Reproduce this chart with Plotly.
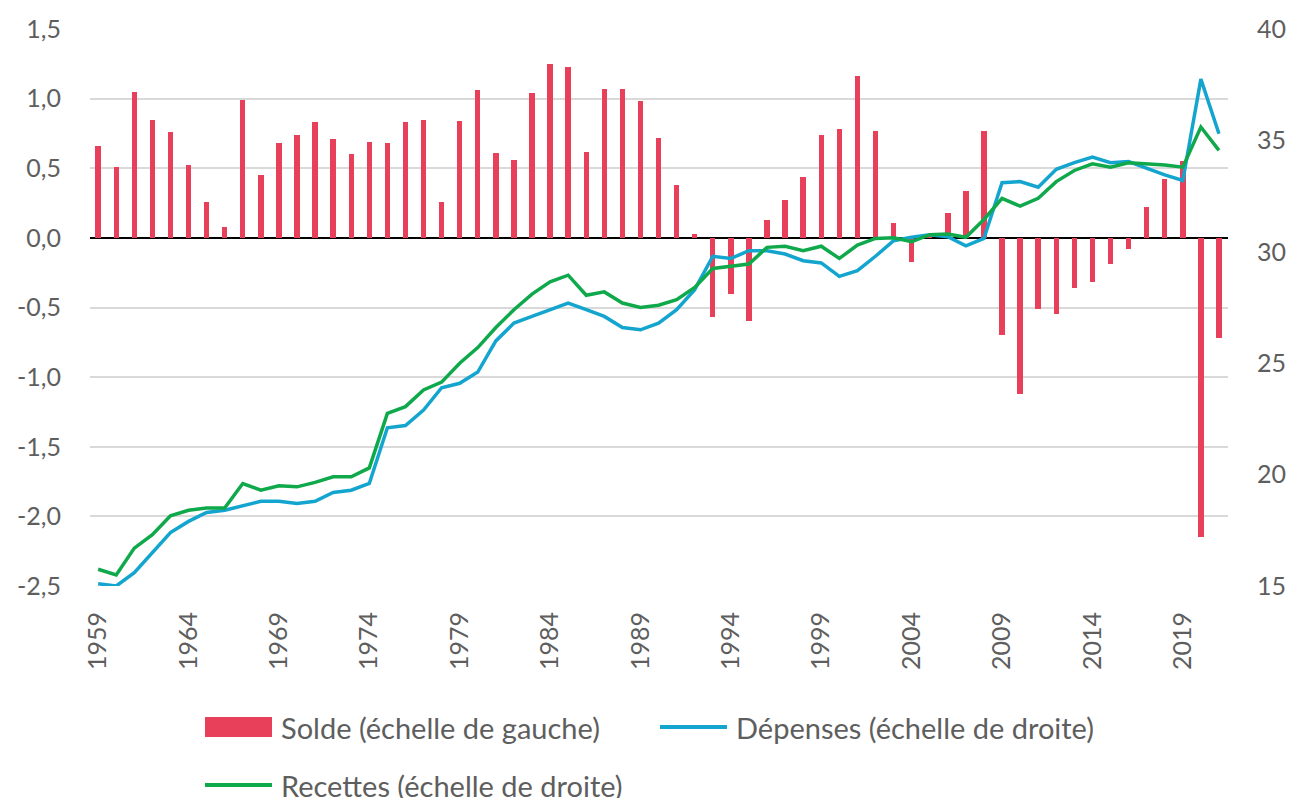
import plotly.graph_objects as go

years = list(range(1959, 2022))

solde = [0.66, 0.51, 1.05, 0.85, 0.76, 0.52, 0.26, 0.08, 0.99, 0.45,
         0.68, 0.74, 0.83, 0.71, 0.60, 0.69, 0.68, 0.83, 0.85, 0.26,
         0.84, 1.06, 0.61, 0.56, 1.04, 1.25, 1.23, 0.62, 1.07, 1.07,
         0.98, 0.72, 0.38, 0.03, -0.57, -0.40, -0.60, 0.13, 0.27, 0.44,
         0.74, 0.78, 1.16, 0.77, 0.11, -0.17, 0.02, 0.18, 0.34, 0.77,
         -0.70, -1.12, -0.51, -0.55, -0.36, -0.32, -0.19, -0.08, 0.22, 0.42,
         0.55, -2.15, -0.72]

depenses = [15.1, 15.0, 15.6, 16.5, 17.4, 17.9, 18.3, 18.4, 18.6, 18.8,
            18.8, 18.7, 18.8, 19.2, 19.3, 19.6, 22.1, 22.2, 22.9, 23.9,
            24.1, 24.6, 26.0, 26.8, 27.1, 27.4, 27.7, 27.4, 27.1, 26.6,
            26.5, 26.8, 27.4, 28.3, 29.8, 29.7, 30.05, 30.05, 29.9, 29.6,
            29.5, 28.9, 29.15, 29.8, 30.5, 30.65, 30.77, 30.68, 30.27, 30.6,
            33.1, 33.15, 32.9, 33.7, 34.0, 34.25, 34.0, 34.05, 33.75, 33.45,
            33.2, 37.75, 35.3]

recettes = [15.75, 15.5, 16.7, 17.3, 18.15, 18.4, 18.5, 18.5, 19.6, 19.3,
            19.5, 19.45, 19.65, 19.9, 19.9, 20.3, 22.75, 23.05, 23.8, 24.15,
            25.0, 25.7, 26.6, 27.4, 28.1, 28.65, 28.95, 28.05, 28.2, 27.7,
            27.5, 27.6, 27.85, 28.4, 29.25, 29.35, 29.45, 30.2, 30.25, 30.05,
            30.25, 29.7, 30.3, 30.6, 30.63, 30.45, 30.77, 30.8, 30.65, 31.45,
            32.4, 32.05, 32.4, 33.15, 33.65, 33.95, 33.8, 34.0, 33.95, 33.9,
            33.8, 35.6, 34.55]

year_ticks = list(range(1959, 2022, 5))
year_labels = [str(y) for y in year_ticks]
left_ticks = [-2.5, -2.0, -1.5, -1.0, -0.5, 0.0, 0.5, 1.0, 1.5]
left_labels = ['-2,5', '-2,0', '-1,5', '-1,0', '-0,5', '0,0', '0,5', '1,0', '1,5']
right_ticks = [15, 20, 25, 30, 35, 40]
right_labels = ['15', '20', '25', '30', '35', '40']

red = '#E8405A'
blue = '#14A5CF'
green = '#0FA94C'
grey = '#5E5E5E'
font = 'Lato'

fig = go.Figure()
fig.add_trace(go.Bar(x=years, y=solde, name='Solde (échelle de gauche)',
                     marker=dict(color=red, line=dict(width=0)), width=0.3,
                     showlegend=False))
fig.add_trace(go.Scatter(x=years, y=depenses, name='Dépenses (échelle de droite)',
                         mode='lines', line=dict(color=blue, width=3.5),
                         yaxis='y2', showlegend=False))
fig.add_trace(go.Scatter(x=years, y=recettes, name='Recettes (échelle de droite)',
                         mode='lines', line=dict(color=green, width=3.5),
                         yaxis='y2', showlegend=False))

# the page body adds 8px around the figure, so the figure is 8px smaller
fig.update_layout(
    width=1287, height=790,
    margin=dict(l=82, r=67, t=21, b=212),
    paper_bgcolor='white', plot_bgcolor='white',
    font=dict(family=font, size=25, color=grey),
    xaxis=dict(range=[1958.55, 2021.5], tickmode='array', tickvals=year_ticks,
               ticktext=year_labels, tickangle=-90, showgrid=False, ticks='',
               showline=False, zeroline=False, ticklabelstandoff=20,
               automargin=False, tickfont=dict(size=25, color=grey)),
    yaxis=dict(range=[-2.5, 1.5], tickmode='array', tickvals=left_ticks,
               ticktext=left_labels, showgrid=True, gridcolor='#D9D9D9', gridwidth=2,
               zeroline=True, zerolinecolor='black', zerolinewidth=2,
               ticks='', ticklabelstandoff=28, automargin=False,
               tickfont=dict(size=25, color=grey)),
    yaxis2=dict(range=[15, 40], tickmode='array', tickvals=right_ticks,
                ticktext=right_labels, overlaying='y', side='right',
                showgrid=False, zeroline=False, ticks='', ticklabelstandoff=28,
                automargin=False, tickfont=dict(size=25, color=grey)),
    bargap=0,
)


# legend drawn by hand so the symbols match the original (page pixels)
def px_x(x):
    return (x - 90) / 1138


def px_y(y):
    return (586 - y) / 557


legend = [
    ('rect', red, 'Solde (échelle de gauche)', 205, 727),
    ('line', blue, 'Dépenses (échelle de droite)', 660, 727),
    ('line', green, 'Recettes (échelle de droite)', 205, 785),
]
for kind, color, label, x0, yc in legend:
    if kind == 'rect':
        fig.add_shape(type='rect', xref='paper', yref='paper',
                      x0=px_x(x0), x1=px_x(x0 + 67), y0=px_y(yc + 10), y1=px_y(yc - 10),
                      fillcolor=color, line=dict(width=0))
    else:
        fig.add_shape(type='line', xref='paper', yref='paper',
                      x0=px_x(x0), x1=px_x(x0 + 67), y0=px_y(yc), y1=px_y(yc),
                      line=dict(color=color, width=4))
    fig.add_annotation(xref='paper', yref='paper', x=px_x(x0 + 74), y=px_y(yc),
                       text=label, showarrow=False, xanchor='left', yanchor='middle',
                       font=dict(family=font, size=29, color=grey))

fig.write_html('out.html')
